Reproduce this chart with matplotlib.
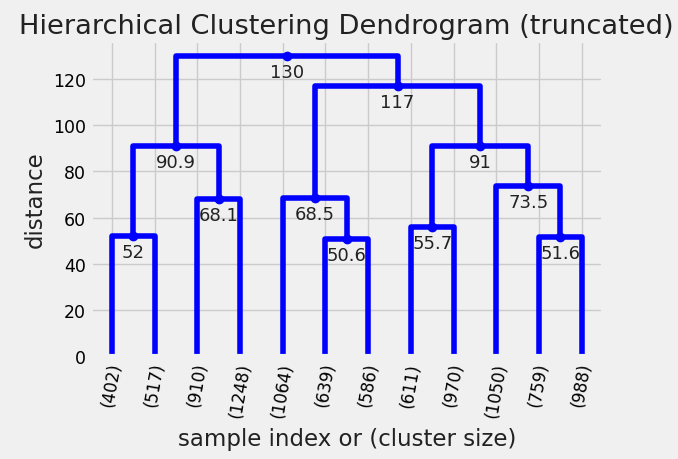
import matplotlib
matplotlib.use("Agg")
import matplotlib.pyplot as plt
import numpy as np

plt.style.use("fivethirtyeight")

# Leaf labels (cluster sizes), left to right
leaf_labels = ["(402)", "(517)", "(910)", "(1248)", "(1064)", "(639)",
               "(586)", "(611)", "(970)", "(1050)", "(759)", "(988)"]

# Merges: (left id, right id, distance); leaves are 0..11, new clusters 12+
merge_left = [0, 2, 5, 4, 7, 10, 9, 12, 16, 15, 19]
merge_right = [1, 3, 6, 14, 8, 11, 17, 13, 18, 20, 21]
merge_dist = [52.0, 68.1, 50.6, 68.5, 55.7, 51.6, 73.5, 90.9, 91.0, 117.0, 130.0]

title = "Hierarchical Clustering Dendrogram (truncated)"
xlabel = "sample index or (cluster size)"
ylabel = "distance"
yticks = [0, 20, 40, 60, 80, 100, 120]

n = len(leaf_labels)
pos = {i: 5.0 + 10.0 * i for i in range(n)}
hgt = {i: 0.0 for i in range(n)}

fig = plt.figure(figsize=(6.78, 4.60), dpi=100)
ax = fig.add_axes([0.1336, 0.2239, 0.7558, 0.6848])

for k, (a, b, d) in enumerate(zip(merge_left, merge_right, merge_dist)):
    cid = n + k
    xa, xb = pos[a], pos[b]
    ax.plot([xa, xa, xb, xb], [hgt[a], d, d, hgt[b]], color="b", lw=4)
    pos[cid] = (xa + xb) / 2.0
    hgt[cid] = d

for k, d in enumerate(merge_dist):
    cid = n + k
    x = pos[cid]
    ax.plot(x, d, "o", color="b", markersize=6)
    ax.annotate("%.3g" % d, (x, d), xytext=(0, -5), textcoords="offset points",
                va="top", ha="center", fontsize=13, color="#222222")

ax.set_xlim(0, 10 * n)
ax.set_ylim(0, max(merge_dist) * 1.05)
ax.set_xticks([pos[i] for i in range(n)])
ax.set_xticklabels(leaf_labels, rotation=80, fontsize=12)
ax.set_yticks(yticks)
ax.tick_params(axis="y", labelsize=12.5)
ax.set_title(title, fontsize=19.6, pad=6, color="#222222")
ax.set_xlabel(xlabel, fontsize=16.5, labelpad=6, color="#222222")
ax.set_ylabel(ylabel, fontsize=16.5, color="#222222")

fig.savefig("out.png", dpi=100)
